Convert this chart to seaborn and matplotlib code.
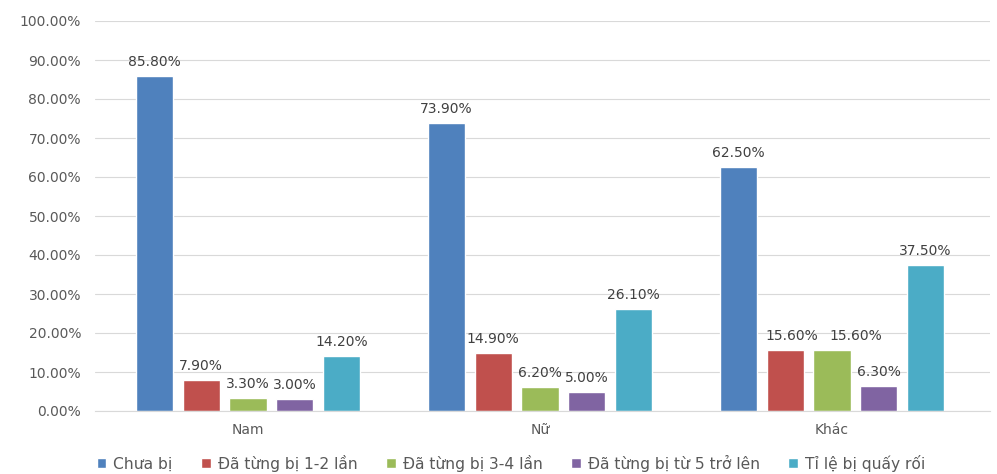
import pandas as pd
import matplotlib
matplotlib.use("Agg")
import matplotlib.pyplot as plt
import seaborn as sns

# Dados
gioi_tinh = ["Nam", "Nữ", "Khác"]
nhom = ["Chưa bị", "Đã từng bị 1-2 lần", "Đã từng bị 3-4 lần",
        "Đã từng bị từ 5 trở lên", "Tỉ lệ bị quấy rối"]
chua_bi = [0.858, 0.739, 0.625]
bi_1_2 = [0.079, 0.149, 0.156]
bi_3_4 = [0.033, 0.062, 0.156]
bi_5 = [0.030, 0.050, 0.063]
ti_le = [0.142, 0.261, 0.375]

cores = ["#4F81BD", "#C0504D", "#9BBB59", "#8064A2", "#4BACC6"]

valores = [chua_bi, bi_1_2, bi_3_4, bi_5, ti_le]
linhas = []
for n, vals in zip(nhom, valores):
    for g, v in zip(gioi_tinh, vals):
        linhas.append({"Giới tính": g, "Nhóm": n, "Valor": v})
df = pd.DataFrame(linhas)

sns.set_style("white")
plt.rcParams["font.family"] = ["DejaVu Sans"]
cor_texto = "#595959"

fig = plt.figure(figsize=(9.97, 4.74), dpi=100)
ax = fig.add_axes([95 / 997, 63 / 474, 895 / 997, 390 / 474])

sns.barplot(
    data=df, x="Giới tính", y="Valor", hue="Nhóm",
    order=gioi_tinh, hue_order=nhom, palette=cores,
    width=0.8, gap=0.2, saturation=1, ax=ax, legend=True
)

rotulos = []
for bar in ax.containers:
    rotulos.append(ax.bar_label(bar, labels=[f"{v * 100:.2f}%" for v in bar.datavalues],
                                fontsize=10, color="#404040", padding=5))

# Afastar os dois rótulos 15.60% (Khác) como no original
rotulos[1][2].xyann = (5, 5)
rotulos[2][2].xyann = (17, 5)

ax.set_ylim(0, 1.0)
ax.set_xlim(-0.524, 2.541)
ax.set_yticks([i / 10 for i in range(11)])
ax.set_yticklabels([f"{i * 10:.2f}%" for i in range(11)])
ax.yaxis.grid(True, color="#D9D9D9", linewidth=0.8)
ax.set_axisbelow(True)
for s in ["top", "right", "left"]:
    ax.spines[s].set_visible(False)
ax.spines["bottom"].set_color("#D9D9D9")
ax.tick_params(axis="both", length=0, labelsize=10, colors=cor_texto)
ax.tick_params(axis="y", pad=10)
ax.tick_params(axis="x", pad=9)
ax.set_xlabel("")
ax.set_ylabel("")

handles, labels = ax.get_legend_handles_labels()
ax.legend_.remove()
fig.legend(handles, labels, loc="center left", bbox_to_anchor=(83 / 997, 1 - 463 / 474),
           ncol=5, frameon=False, fontsize=11.2, handlelength=0.6, handleheight=0.6,
           handletextpad=0.45, columnspacing=1.85, labelcolor=cor_texto)

fig.savefig("out.png", dpi=100)
